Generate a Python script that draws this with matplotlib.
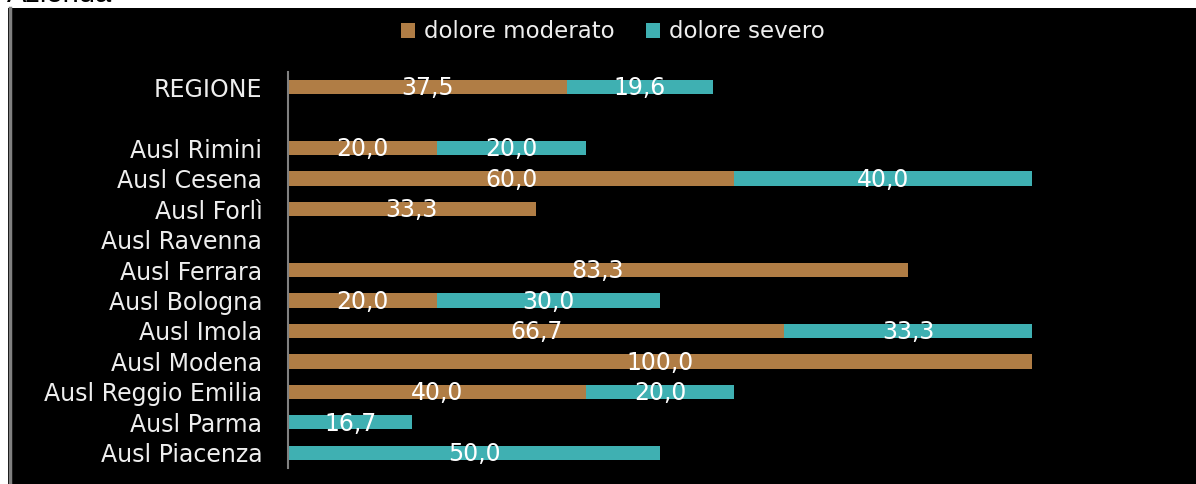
import matplotlib
matplotlib.use('Agg')
import matplotlib.pyplot as plt
from matplotlib.patches import Rectangle
from matplotlib.lines import Line2D

# categories top to bottom, '' is the empty gap row
categories = ['REGIONE', '', 'Ausl Rimini', 'Ausl Cesena', 'Ausl Forlì', 'Ausl Ravenna',
              'Ausl Ferrara', 'Ausl Bologna', 'Ausl Imola', 'Ausl Modena',
              'Ausl Reggio Emilia', 'Ausl Parma', 'Ausl Piacenza']
moderato = [37.5, 0, 20.0, 60.0, 33.3, 0, 83.3, 20.0, 66.7, 100.0, 40.0, 0, 0]
severo = [19.6, 0, 20.0, 40.0, 0, 0, 0, 30.0, 33.3, 0, 20.0, 16.7, 50.0]
series_names = ['dolore moderato', 'dolore severo']

col_mod = '#B07D45'
col_sev = '#3FB0B2'
txt = '#EEEEEE'
fs = 17

fig = plt.figure(figsize=(11.96, 4.84), dpi=100, facecolor='white')

# black panel with grey left border
W, H = 1196, 484
fig.patches.append(Rectangle((8 / W, 0), 1 - 8 / W, 1 - 8 / H, transform=fig.transFigure,
                             facecolor='black', edgecolor='none', zorder=-5))
fig.lines.append(Line2D([9.5 / W, 9.5 / W], [0, 1 - 8 / H], transform=fig.transFigure,
                        color='#808080', lw=2.5, zorder=-4))
# title of the page above, cut off by the crop like in the original
fig.text(7 / W, 1 - 2 / H, 'Azienda', fontsize=21, family='Liberation Sans',
         color='black', va='baseline', ha='left', zorder=-3)

ax = fig.add_axes([288 / W, 16 / H, 744 / W, 396 / H])
ax.patch.set_alpha(0)

y = list(range(len(categories)))
bh = 0.47
b1 = ax.barh(y, moderato, height=bh, color=col_mod, label=series_names[0])
b2 = ax.barh(y, severo, left=moderato, height=bh, color=col_sev, label=series_names[1])

for bars, vals in ((b1, moderato), (b2, severo)):
    for rect, v in zip(bars, vals):
        if v > 0:
            ax.text(rect.get_x() + rect.get_width() / 2, rect.get_y() + rect.get_height() / 2 + 0.04,
                    f'{v:.1f}'.replace('.', ','), ha='center', va='center',
                    color='white', fontsize=fs)

ax.set_xlim(0, 100)
ax.set_ylim(len(categories) - 0.5, -0.5)
ax.set_yticks(y)
ax.set_yticklabels(categories, color=txt, fontsize=fs)
ax.tick_params(axis='y', length=0, pad=18.5)
ax.set_xticks([])
for s in ['top', 'right', 'bottom']:
    ax.spines[s].set_visible(False)
ax.spines['left'].set_color('#808080')
ax.spines['left'].set_linewidth(1.5)

leg = fig.legend(handles=[b1, b2], loc='center', bbox_to_anchor=(613 / W, 1 - 32 / H),
                 ncol=2, frameon=False, fontsize=16.5, handlelength=0.6, handleheight=0.6,
                 handletextpad=0.4, columnspacing=1.4, labelcolor=txt)

fig.savefig('out.png', dpi=100, facecolor='white')
